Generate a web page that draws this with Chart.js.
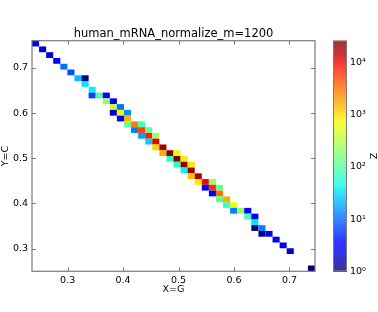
<!DOCTYPE html>
<html>
<head>
<meta charset="utf-8">
<script src="https://cdn.jsdelivr.net/npm/chart.js@4.4.0/dist/chart.umd.min.js"></script>
<style>
  html, body { margin: 0; padding: 0; background: #fff; }
</style>
</head>
<body>
<canvas id="heat" width="378" height="312"></canvas>
<script>
// 40x40 histogram of G vs C, only non-empty bins listed
const G_MIN = 0.2357, C_MIN = 0.2498, BIN_W = 0.01276, N_BINS = 40;

const gBin = [0, 1, 2, 3, 4, 5, 6, 7, 7, 8, 8, 9, 10, 10, 11, 11, 12, 11, 12, 13,
  12, 13, 13, 14, 15, 14, 15, 16, 15, 16, 17, 16, 17, 17, 18, 18, 19, 20, 19, 20,
  21, 20, 21, 22, 21, 22, 22, 23, 23, 24, 25, 24, 25, 26, 25, 26, 26, 27, 27, 28,
  28, 29, 30, 30, 31, 31, 31, 32, 32, 33, 34, 35, 36, 39];
const cBin = [39, 38, 37, 36, 35, 34, 33, 33, 32, 31, 30, 30, 30, 29, 29, 28, 28, 27, 27, 27,
  26, 26, 25, 25, 25, 24, 24, 24, 23, 23, 23, 22, 22, 21, 21, 20, 20, 20, 19, 19,
  19, 18, 18, 18, 17, 17, 16, 16, 15, 15, 15, 14, 14, 14, 13, 13, 12, 12, 11, 11,
  10, 10, 10, 9, 9, 8, 7, 7, 6, 6, 5, 4, 3, 0];
const counts = [3, 2, 2, 3, 11, 8, 24, 1, 35, 40, 7, 95, 3, 210, 3, 380, 11, 2, 700, 15,
  3, 1600, 115, 2700, 80, 13, 5200, 115, 18, 7400, 255, 28, 11000, 1100, 19000, 1600, 23000, 700, 65, 26000,
  830, 55, 23000, 850, 40, 19000, 1300, 18000, 800, 9500, 255, 3, 6300, 115, 3, 3200, 115, 1600, 80, 600,
  13, 255, 3, 85, 3, 33, 1, 13, 1, 3, 3, 3, 2, 1];

const xTicks = [0.3, 0.4, 0.5, 0.6, 0.7];
const yTicks = [0.3, 0.4, 0.5, 0.6, 0.7];
const zTicks = [1, 10, 100, 1000, 10000];
const zLabels = ['10\u2070', '10\u00b9', '10\u00b2', '10\u00b3', '10\u2074'];

const zMax = Math.max(...counts);
const points = counts.map((z, i) => ({
  x: G_MIN + (gBin[i] + 0.5) * BIN_W,
  y: C_MIN + (cBin[i] + 0.5) * BIN_W,
  z: z
}));

// matplotlib "jet"
const JET = {
  r: [[0, 0], [0.35, 0], [0.66, 1], [0.89, 1], [1, 0.5]],
  g: [[0, 0], [0.125, 0], [0.375, 1], [0.64, 1], [0.91, 0], [1, 0]],
  b: [[0, 0.5], [0.11, 1], [0.34, 1], [0.65, 0], [1, 0]]
};
function seg(pts, t) {
  for (let i = 1; i < pts.length; i++) {
    if (t <= pts[i][0]) {
      const [t0, v0] = pts[i - 1], [t1, v1] = pts[i];
      return v0 + (v1 - v0) * (t - t0) / (t1 - t0);
    }
  }
  return pts[pts.length - 1][1];
}
function jet(t) {
  t = Math.max(0, Math.min(1, t));
  const c = k => Math.round(255 * seg(JET[k], t));
  return 'rgb(' + c('r') + ',' + c('g') + ',' + c('b') + ')';
}
const norm = v => Math.log10(v) / Math.log10(zMax);

const FONT = 'DejaVu Sans';
const frameColor = '#7a7a7a';

const cellPlugin = {
  id: 'cells',
  beforeDatasetsDraw(chart) {
    const { ctx, scales: { x, y } } = chart;
    ctx.save();
    chart.data.datasets[0].data.forEach(d => {
      const x0 = x.getPixelForValue(d.x - BIN_W / 2), x1 = x.getPixelForValue(d.x + BIN_W / 2);
      const y0 = y.getPixelForValue(d.y + BIN_W / 2), y1 = y.getPixelForValue(d.y - BIN_W / 2);
      ctx.fillStyle = jet(norm(d.z));
      ctx.fillRect(x0, y0, x1 - x0, y1 - y0);
    });
    ctx.restore();
  },
  afterDraw(chart) {
    const { ctx, chartArea: a, scales: { x, y, z } } = chart;
    ctx.save();
    // axes frame + inward ticks
    ctx.strokeStyle = frameColor;
    ctx.lineWidth = 1.2;
    ctx.strokeRect(a.left, a.top, a.right - a.left, a.bottom - a.top);
    ctx.lineWidth = 1;
    ctx.beginPath();
    x.ticks.forEach(t => {
      const px = Math.round(x.getPixelForValue(t.value)) + 0.5;
      ctx.moveTo(px, a.bottom); ctx.lineTo(px, a.bottom - 4);
      ctx.moveTo(px, a.top); ctx.lineTo(px, a.top + 4);
    });
    y.ticks.forEach(t => {
      const py = Math.round(y.getPixelForValue(t.value)) + 0.5;
      ctx.moveTo(a.left, py); ctx.lineTo(a.left + 4, py);
      ctx.moveTo(a.right, py); ctx.lineTo(a.right - 4, py);
    });
    ctx.stroke();
    // colorbar
    const cbL = z.left + 18, cbR = z.left + 32;
    for (let py = z.top; py < z.bottom; py++) {
      ctx.fillStyle = jet((z.bottom - py - 0.5) / (z.bottom - z.top));
      ctx.fillRect(cbL, py, cbR - cbL, 1);
    }
    ctx.strokeStyle = frameColor;
    ctx.lineWidth = 1;
    ctx.strokeRect(cbL + 0.5, z.top + 0.5, cbR - cbL - 1, z.bottom - z.top - 1);
    ctx.restore();
  }
};

const tickFont = { family: FONT, size: 9.5 };

new Chart(document.getElementById('heat'), {
  type: 'scatter',
  data: { datasets: [{ data: points, pointRadius: 0, pointHoverRadius: 0 }] },
  options: {
    responsive: false,
    animation: false,
    devicePixelRatio: 1,
    layout: { padding: 0 },
    plugins: {
      legend: { display: false },
      tooltip: { enabled: false },
      title: {
        display: true,
        fullSize: false,
        text: 'human_mRNA_normalize_m=1200',
        color: '#000',
        font: { family: FONT, size: 11.5, weight: 'normal', lineHeight: 1.05 },
        padding: { top: 0, bottom: 1 }
      }
    },
    scales: {
      x: {
        type: 'linear',
        position: 'bottom',
        min: G_MIN,
        max: G_MIN + N_BINS * BIN_W,
        grid: { display: false, drawTicks: false },
        border: { display: false },
        ticks: { font: tickFont, color: '#000', padding: 4, callback: v => v.toFixed(1) },
        afterBuildTicks: s => { s.ticks = xTicks.map(v => ({ value: v })); },
        afterFit: s => { s.height = 25; },
        title: { display: true, text: 'X=G', color: '#000', font: tickFont, padding: { top: 0, bottom: 1 } }
      },
      y: {
        type: 'linear',
        position: 'left',
        min: C_MIN,
        max: C_MIN + N_BINS * BIN_W,
        grid: { display: false, drawTicks: false },
        border: { display: false },
        ticks: { font: tickFont, color: '#000', padding: 4, callback: v => v.toFixed(1) },
        afterBuildTicks: s => { s.ticks = yTicks.map(v => ({ value: v })); },
        afterFit: s => { s.width = 32; },
        title: { display: true, text: 'Y=C', color: '#000', font: tickFont, padding: { top: 0, bottom: 0 } }
      },
      z: {
        type: 'logarithmic',
        axis: 'y',
        position: 'right',
        min: 1,
        max: zMax,
        grid: { display: false, drawTicks: false },
        border: { display: false },
        ticks: {
          font: tickFont, color: '#000', padding: 35,
          callback: (v, i) => zLabels[i]
        },
        afterBuildTicks: s => { s.ticks = zTicks.map(v => ({ value: v })); },
        afterFit: s => { s.width = 63; },
        title: { display: true, text: 'Z', color: '#000', font: tickFont, padding: { top: 0, bottom: 2 } }
      }
    }
  },
  plugins: [cellPlugin]
});
</script>
</body>
</html>
